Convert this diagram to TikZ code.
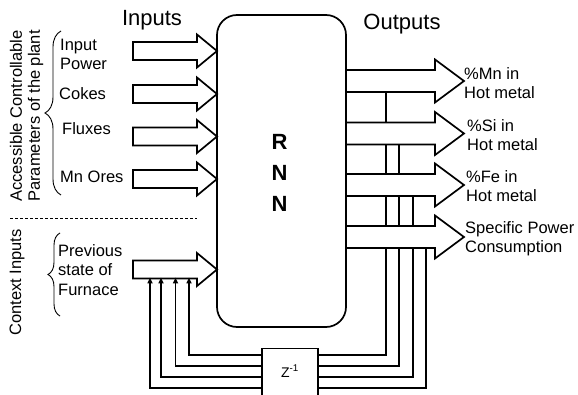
\documentclass[tikz,border=0pt]{standalone}
\usepackage{fontspec}
\setmainfont{Liberation Sans}
\usetikzlibrary{arrows.meta,decorations.pathreplacing}
\newcommand\myinarrow[2]{%
  \coordinate (#1) at (133,#2);
  \draw[blockline] (133,#2-9) -- (197,#2-9) -- (197,#2-16.5) -- (217,#2) -- (197,#2+16.5) -- (197,#2+9) -- (133,#2+9) -- cycle;}
\newcommand\myoutarrow[2]{%
  \coordinate (#1) at (464,#2);
  \filldraw[blockline, fill=white] (346,#2-11) -- (435,#2-11) -- (435,#2-21.5) -- (464,#2) -- (435,#2+21.5) -- (435,#2+11) -- (346,#2+11);}
\begin{document}
\begin{tikzpicture}[x=1pt,y=-1pt,
  blockline/.style={line width=1.7pt, line join=miter},
  wire/.style={line width=1.7pt},
  lbl/.style={font=\fontsize{16.5}{19.5}\selectfont, inner sep=0pt, align=left, anchor=base west},
  headtxt/.style={font=\fontsize{22}{24}\selectfont, inner sep=0pt, anchor=base},
  bigtxt/.style={font=\fontsize{22}{24}\selectfont\bfseries, inner sep=0pt, anchor=base},
  sidetxt/.style={font=\fontsize{16.5}{18}\selectfont, inner sep=0pt, align=center, rotate=90},
  bracepath/.style={decorate, line width=0.9pt},
  fbtip/.style={-{Triangle[length=6pt,width=5pt]}}]
\useasboundingbox (0,0) rectangle (578,395);

% feedback levels and taps
\coordinate (f1) at (0,355);
\coordinate (f2) at (0,366);
\coordinate (f3) at (0,377);
\coordinate (f4) at (0,388);
\coordinate (t1) at (386,81);
\coordinate (t2) at (399,133.5);
\coordinate (t3) at (413,185);
\coordinate (t4) at (426,237);
\coordinate (e1) at (189,277.5);
\coordinate (e2) at (175.5,277.5);
\coordinate (e3) at (161,277.5);
\coordinate (e4) at (150,277.5);

% delay unit
\node[draw, wire, minimum width=56pt, minimum height=60pt, anchor=north, inner sep=0pt] (z) at (290,347.75) {};
\node[font=\fontsize{14}{16}\selectfont, inner sep=0pt, anchor=base] (zl) at (290,377) {Z\textsuperscript{-1}};

% feedback wires (right side)
\draw[wire] (t1) -- (t1 |- f1) -- (z.east |- f1);
\draw[wire] (t2) -- (t2 |- f2) -- (z.east |- f2);
\draw[wire] (t3) -- (t3 |- f3) -- (z.east |- f3);
\draw[wire] (t4) -- (t4 |- f4) -- (z.east |- f4);
% feedback wires (left side)
\draw[wire, fbtip] (z.west |- f1) -| (e1);
\draw[wire, fbtip] (z.west |- f2) -| (e2);
\draw[wire, fbtip] (z.west |- f3) -| (e3);
\draw[wire, fbtip] (z.west |- f4) -| (e4);

% output arrows
\myoutarrow{o1}{81}
\myoutarrow{o2}{133.5}
\myoutarrow{o3}{185}
\myoutarrow{o4}{237}

% input arrows
\myinarrow{i1}{51}
\myinarrow{i2}{94}
\myinarrow{i3}{136.5}
\myinarrow{i4}{179}
\myinarrow{i5}{269.5}

% RNN block
\node[draw, wire, rounded corners=20pt, minimum width=129pt, minimum height=312pt, inner sep=0pt] (rnn) at (281.5,171) {};
\node[bigtxt] (rr) at (279.5,150) {R};
\node[bigtxt] (rn1) at (279.5,181) {N};
\node[bigtxt] (rn2) at (279.5,212) {N};

% headings
\node[headtxt] (hin) at (152,26) {Inputs};
\node[headtxt] (hout) at (402,30) {Outputs};

% input labels (base = last line baseline)
\node[lbl] (l1) at (60,70) {Input\\Power};
\node[lbl] (l2) at (59,100) {Cokes};
\node[lbl] (l3) at (62,135) {Fluxes};
\node[lbl] (l4) at (60,183) {Mn Ores};
\node[lbl] (l5) at (58,295) {Previous\\state of\\Furnace};

% output labels
\node[lbl] (m1) at (464,99) {\%Mn in\\Hot metal};
\node[lbl] (m2) at (467,151) {\%Si in\\Hot metal};
\node[lbl] (m3) at (466,202) {\%Fe in\\Hot metal};
\node[lbl] (m4) at (465,253) {Specific Power\\Consumption};

% side texts
\node[sidetxt] (s1) at (26.5,116) {Accessible Controllable\\Parameters of the plant};
\node[sidetxt] (s2) at (17,282.5) {Context Inputs};

% braces
\coordinate (b1a) at (61,195);
\coordinate (b1b) at (61,31);
\coordinate (b2a) at (60,316);
\coordinate (b2b) at (60,233);
\draw[bracepath, decoration={brace, amplitude=16pt}] (b1a) -- (b1b);
\draw[bracepath, decoration={brace, amplitude=12pt}] (b2a) -- (b2b);

% separator
\coordinate (d1) at (10,218);
\coordinate (d2) at (197,218);
\draw[line width=0.9pt, dash pattern=on 3pt off 2pt] (d1) -- (d2);
\end{tikzpicture}
\end{document}
